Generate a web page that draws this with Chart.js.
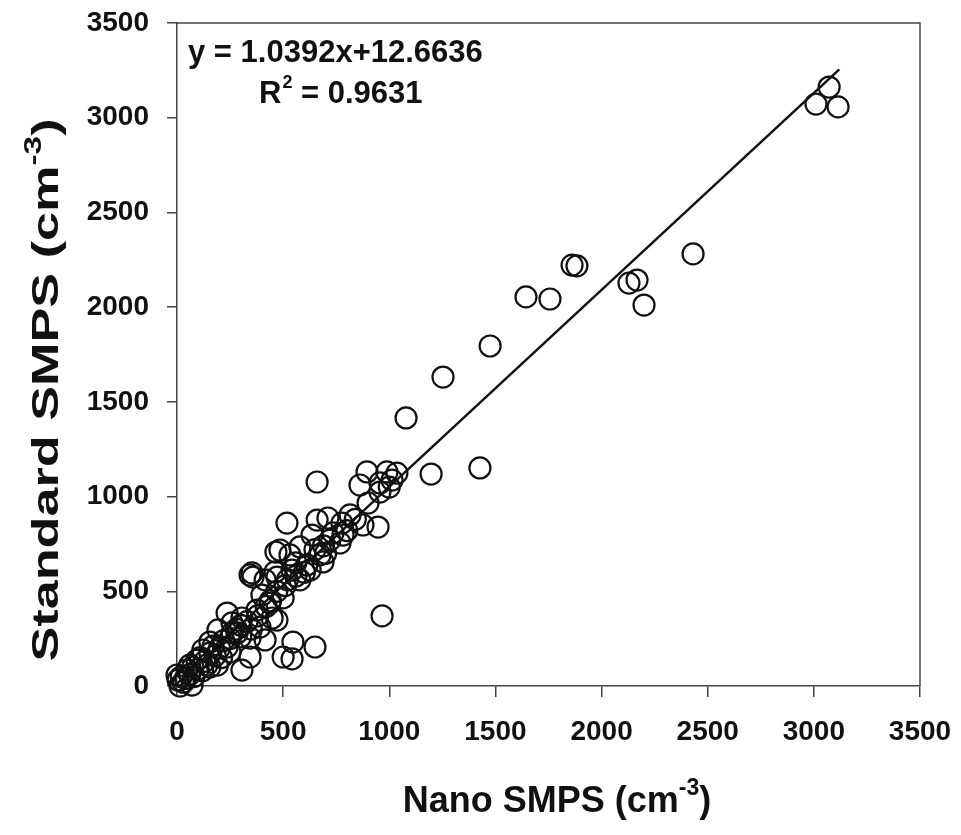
<!DOCTYPE html>
<html>
<head>
<meta charset="utf-8">
<script src="https://cdn.jsdelivr.net/npm/chart.js@4/dist/chart.umd.min.js"></script>
<style>
  body { margin: 0; background: #fff; }
  #wrap { width: 961px; height: 835px; position: relative; }
</style>
</head>
<body>
<div id="wrap"><canvas id="chart"></canvas></div>
<script>
// Nano SMPS vs Standard SMPS number concentrations (cm^-3)
const nanoSmps = [
  3072, 3010, 3114, 2431, 1861, 1884, 1644, 1757, 2129, 2167, 2200, 1475, 1253, 1079, 1197, 1427, 660,
  895, 989, 1036, 862, 956, 1013, 900, 956, 1000, 947, 876,
  518, 660, 711, 815, 777, 636, 735, 782, 768, 532, 485, 579, 674, 612, 627, 700, 650, 560, 600, 720, 800, 840, 690,
  353, 358, 462, 466, 344, 471, 500, 438, 448, 377, 415, 542, 688, 579, 400, 420, 470, 510, 380, 330, 300, 350, 280, 440, 520, 560,
  966, 650, 546, 542, 500, 415, 471, 306, 344, 236, 306, 391, 155, 236, 283, 344, 193, 259, 94, 122, 47, 5, 14, 71, 0, 155, 75, 155,
  250, 200, 180, 130, 100, 60, 30, 20, 40, 110, 170, 220, 260, 300, 210, 140, 80, 60, 250, 190, 120
];
const standardSmps = [
  3162, 3072, 3057, 2281, 2222, 2218, 2054, 2043, 2127, 2143, 2011, 1795, 1631, 1415, 1119, 1151, 1077,
  1130, 1130, 1124, 1061, 1072, 1087, 966, 1024, 1050, 839, 850,
  860, 876, 887, 903, 860, 797, 808, 797, 755, 692, 718, 734, 692, 639, 612, 700, 720, 650, 600, 770, 820, 880, 740,
  597, 575, 602, 707, 586, 575, 465, 438, 359, 401, 560, 612, 655, 560, 480, 420, 500, 530, 370, 340, 320, 300, 300, 450, 560, 580,
  370, 206, 232, 143, 153, 243, 348, 84, 153, 385, 359, 311, 232, 206, 280, 253, 296, 333, 137, 190, 84, 32, 0, 5, 58, 174, 100, 100,
  250, 200, 160, 130, 90, 60, 20, 50, 40, 150, 210, 240, 280, 260, 150, 110, 50, 110, 180, 110, 80
];

// linear fit shown on the figure
const fitSlope = 1.0392;
const fitIntercept = 12.6636;
const fitRangeX = [0, 3120];
const fitLabel = "y = 1.0392x+12.6636";
const r2Value = "0.9631";

const tickValues = [0, 500, 1000, 1500, 2000, 2500, 3000, 3500];

const points = nanoSmps.map((x, i) => ({ x: x, y: standardSmps[i] }));
const fitLine = fitRangeX.map(x => ({ x: x, y: fitSlope * x + fitIntercept }));

const FONT = "'Liberation Sans', Arial, Helvetica, sans-serif";

/* axis titles with superscript + fit text */
const textPlugin = {
  id: "texts",
  afterDraw(c) {
    const ctx = c.ctx;
    const area = c.chartArea;
    ctx.save();
    ctx.fillStyle = "#111";
    ctx.textBaseline = "alphabetic";

    // box on top and right
    ctx.strokeStyle = "#444";
    ctx.lineWidth = 1.5;
    ctx.beginPath();
    ctx.moveTo(area.left, area.top);
    ctx.lineTo(area.right, area.top);
    ctx.lineTo(area.right, area.bottom);
    ctx.stroke();

    // fit equation
    ctx.font = "bold 31px " + FONT;
    ctx.textAlign = "left";
    ctx.fillText(fitLabel, 188, 62);
    ctx.fillText("R", 259, 103);
    let w = ctx.measureText("R").width;
    ctx.font = "bold 18px " + FONT;
    ctx.fillText("2", 259 + w + 1, 88);
    let w2 = ctx.measureText("2").width;
    ctx.font = "bold 31px " + FONT;
    ctx.fillText(" = " + r2Value, 259 + w + w2 + 1, 103);

    // axis titles
    drawTitle(ctx, "Nano SMPS (cm", "-3", ")", 557, 812, 0, 1);
    drawTitle(ctx, "Standard SMPS (cm", "-3", ")", 58, 390, -Math.PI / 2, 1.45);
    ctx.restore();
  }
};

function drawTitle(ctx, main, sup, tail, cx, cy, rot, stretch) {
  ctx.save();
  ctx.translate(cx, cy);
  ctx.rotate(rot);
  ctx.scale(stretch, 1);
  ctx.font = "bold 36px " + FONT;
  const wMain = ctx.measureText(main).width;
  const wTail = ctx.measureText(tail).width;
  ctx.font = "bold 23px " + FONT;
  const wSup = ctx.measureText(sup).width;
  let x = -(wMain + wSup + wTail) / 2;
  ctx.textAlign = "left";
  ctx.font = "bold 36px " + FONT;
  ctx.fillText(main, x, 0);
  x += wMain;
  ctx.font = "bold 23px " + FONT;
  ctx.fillText(sup, x, -17);
  x += wSup;
  ctx.font = "bold 36px " + FONT;
  ctx.fillText(tail, x, 0);
  ctx.restore();
}

const tickFont = { family: FONT, size: 28, weight: "bold" };

new Chart(document.getElementById("chart"), {
  type: "scatter",
  data: {
    datasets: [
      {
        data: points,
        pointStyle: "circle",
        pointRadius: 10.5,
        pointBorderWidth: 2.2,
        pointBackgroundColor: "rgba(255,255,255,0)",
        pointBorderColor: "#111",
        clip: false
      },
      {
        type: "line",
        data: fitLine,
        borderColor: "#111",
        borderWidth: 2.5,
        pointRadius: 0,
        fill: false
      }
    ]
  },
  options: {
    responsive: true,
    maintainAspectRatio: false,
    animation: false,
    layout: { padding: { top: 23, right: 41, left: 0, bottom: 0 } },
    plugins: { legend: { display: false }, tooltip: { enabled: false } },
    scales: {
      x: {
        type: "linear",
        min: 0,
        max: 3500,
        afterBuildTicks: s => { s.ticks = tickValues.map(v => ({ value: v })); },
        afterFit: s => { s.height = 149; s.paddingLeft = 0; s.paddingRight = 0; },
        ticks: { font: tickFont, color: "#111", padding: 18, maxRotation: 0, callback: v => String(v) },
        grid: { drawOnChartArea: false, tickLength: 11, color: "#444", lineWidth: 1.5 },
        border: { color: "#444", width: 1.5 }
      },
      y: {
        type: "linear",
        min: 0,
        max: 3500,
        afterBuildTicks: s => { s.ticks = tickValues.map(v => ({ value: v })); },
        afterFit: s => { s.width = 177; s.paddingTop = 0; s.paddingBottom = 0; },
        ticks: { font: tickFont, color: "#111", padding: 18, callback: v => String(v) },
        grid: { drawOnChartArea: false, tickLength: 10, color: "#444", lineWidth: 1.5 },
        border: { color: "#444", width: 1.5 }
      }
    }
  },
  plugins: [textPlugin]
});
</script>
</body>
</html>
